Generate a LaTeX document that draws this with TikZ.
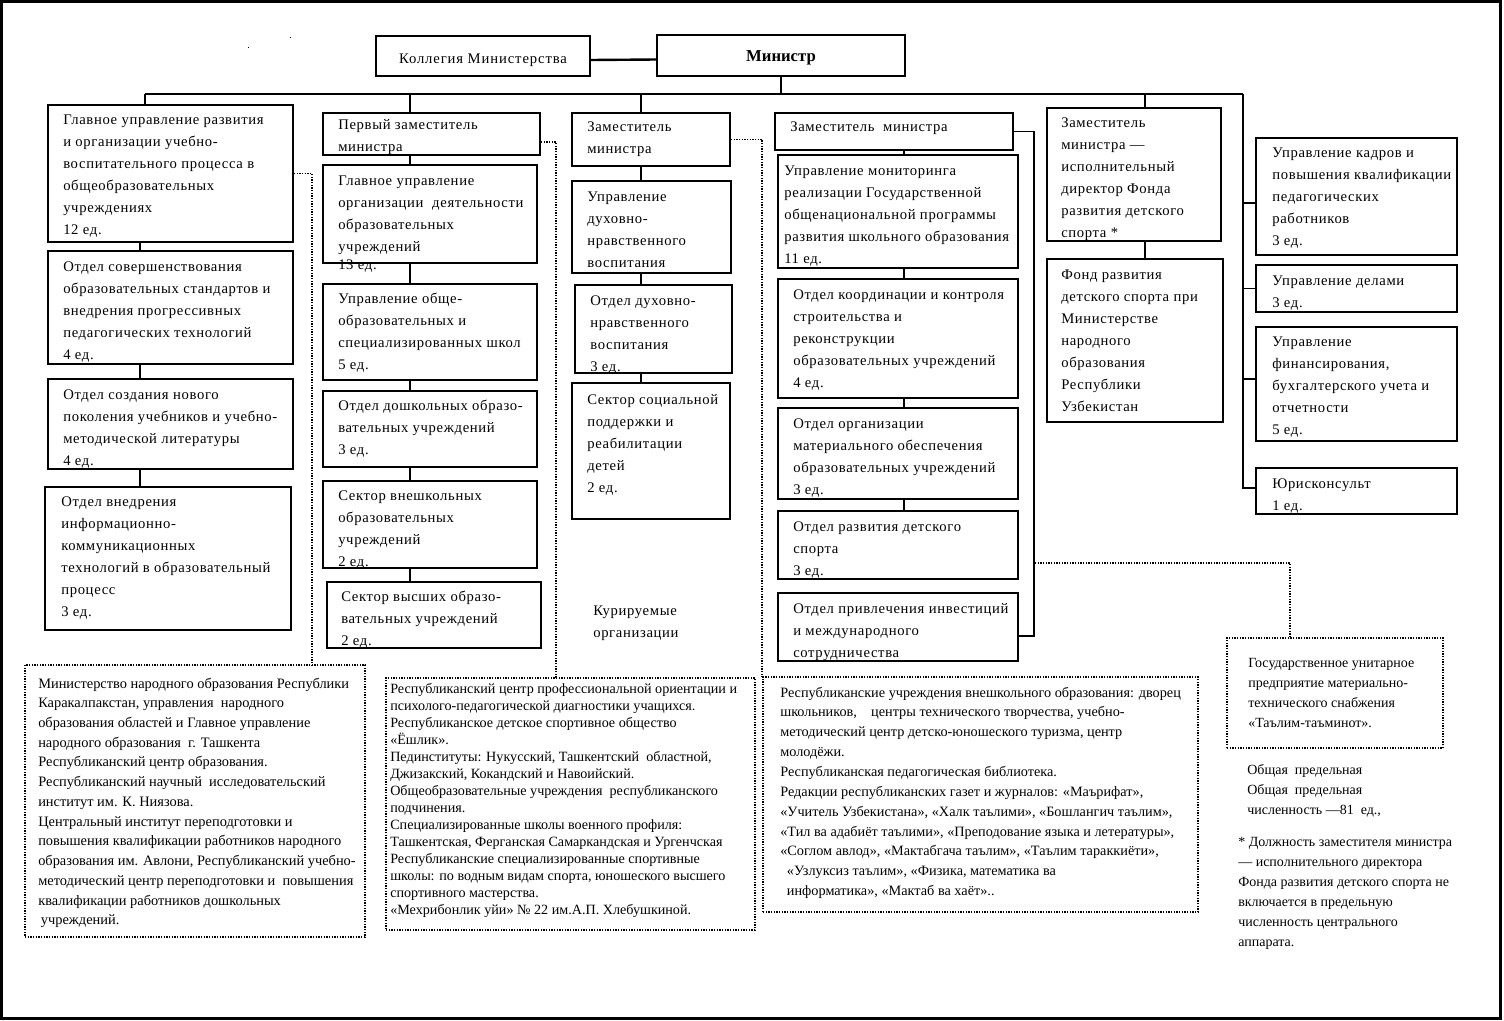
\documentclass[tikz,border=0pt]{standalone}
\usepackage{fontspec}
\setmainfont{Liberation Serif}
\newfontfamily\bxf[LetterSpace=4.5]{Liberation Serif}
\newfontfamily\kf[LetterSpace=6]{Liberation Serif}
\newfontfamily\dxf{Liberation Serif}
\usetikzlibrary{fit}
\newcommand\Ln[1]{\hbox{#1}}
\newcommand\Lines[1]{\vtop{#1}}
\tikzset{
  box/.style={draw, line width=1.4pt, inner sep=0pt},
  dbox/.style={draw, densely dotted, line width=1pt, inner sep=0pt},
  conn/.style={line width=1.3pt},
  dline/.style={densely dotted, line width=1pt},
  tx/.style={anchor=base west, inner sep=0pt, font=\bxf\fontsize{11pt}{16.5pt}\selectfont},
  dtxa/.style={anchor=base west, inner sep=0pt, font=\dxf\fontsize{10.8pt}{14.8pt}\selectfont},
  dtxb/.style={anchor=base west, inner sep=0pt, font=\dxf\fontsize{10.6pt}{12.75pt}\selectfont},
  dtxc/.style={anchor=base west, inner sep=0pt, font=\dxf\fontsize{10.7pt}{14.9pt}\selectfont},
  ntx/.style={anchor=base west, inner sep=0pt, font=\dxf\fontsize{10.5pt}{15pt}\selectfont},
}
\begin{document}
\begin{tikzpicture}[x=0.75pt,y=-0.75pt]
\useasboundingbox (0,0) rectangle (1504,1021);
\draw[line width=2.2pt] (1.5,1.5) rectangle (1500.5,1018.5);
\fill (247.5,46.5) rectangle (248.5,47.5);
\fill (289.5,36.5) rectangle (290.5,37.5);

% top
\node[box, fit={(376,36)(590,76)}] (k) {};
\node[inner sep=0pt, font=\kf\fontsize{11pt}{13pt}\selectfont] (kt) at ([yshift=-3pt]k.center) {Коллегия Министерства};
\node[box, fit={(657,35)(905,76)}] (m) {};
\node[inner sep=0pt, font=\dxf\bfseries\fontsize{12.5pt}{14pt}\selectfont] (mt) at ([yshift=-2pt]m.center) {Министр};

% column 1
\node[box, fit={(48,105)(293,242)}] (c1a) {};
\node[tx] (c1at) at (63,124) {\Lines{\Ln{Главное управление развития}\Ln{и организации учебно-}\Ln{воспитательного процесса в}\Ln{общеобразовательных}\Ln{учреждениях}\Ln{12 ед.}}};
\node[box, fit={(48,251)(293,364)}] (c1b) {};
\node[tx] (c1bt) at (63,271) {\Lines{\Ln{Отдел совершенствования}\Ln{образовательных стандартов и}\Ln{внедрения прогрессивных}\Ln{педагогических технологий}\Ln{4 ед.}}};
\node[box, fit={(48,379)(293,469)}] (c1c) {};
\node[tx] (c1ct) at (63,399) {\Lines{\Ln{Отдел создания нового}\Ln{поколения учебников и учебно-}\Ln{методической литературы}\Ln{4 ед.}}};
\node[box, fit={(45,487)(291,630)}] (c1d) {};
\node[tx] (c1dt) at (61,506) {\Lines{\Ln{Отдел внедрения}\Ln{информационно-}\Ln{коммуникационных}\Ln{технологий в образовательный}\Ln{процесс}\Ln{3 ед.}}};

% column 2
\node[box, fit={(323,113)(540,155)}] (c2a) {};
\node[tx] (c2at) at (338,129) {\Lines{\Ln{Первый заместитель}\Ln{министра}}};
\node[box, fit={(323,165)(537,263)}] (c2b) {};
\node[tx] (c2bt) at (338,185) {\Lines{\Ln{Главное управление}\Ln{организации \ деятельности}\Ln{образовательных}\Ln{учреждений}\vskip-3pt\Ln{13 ед.}}};
\node[box, fit={(323,284)(537,380)}] (c2c) {};
\node[tx] (c2ct) at (338,303) {\Lines{\Ln{Управление обще-}\Ln{образовательных и}\Ln{специализированных школ}\Ln{5 ед.}}};
\node[box, fit={(323,391)(537,467)}] (c2d) {};
\node[tx] (c2dt) at (338,410) {\Lines{\Ln{Отдел дошкольных образо-}\Ln{вательных учреждений}\Ln{3 ед.}}};
\node[box, fit={(323,481)(537,568)}] (c2e) {};
\node[tx] (c2et) at (338,500) {\Lines{\Ln{Сектор внешкольных}\Ln{образовательных}\Ln{учреждений}\Ln{2 ед.}}};
\node[box, fit={(327,582)(541,648)}] (c2f) {};
\node[tx] (c2ft) at (341,601) {\Lines{\Ln{Сектор высших образо-}\Ln{вательных учреждений}\Ln{2 ед.}}};

% column 3
\node[box, fit={(572,113)(730,166)}] (c3a) {};
\node[tx] (c3at) at (587,131) {\Lines{\Ln{Заместитель}\Ln{министра}}};
\node[box, fit={(572,181)(731,273)}] (c3b) {};
\node[tx] (c3bt) at (587,201) {\Lines{\Ln{Управление}\Ln{духовно-}\Ln{нравственного}\Ln{воспитания}}};
\node[box, fit={(575,285)(732,373)}] (c3c) {};
\node[tx] (c3ct) at (590,305) {\Lines{\Ln{Отдел духовно-}\Ln{нравственного}\Ln{воспитания}\Ln{3 ед.}}};
\node[box, fit={(572,383)(730,519)}] (c3d) {};
\node[tx] (c3dt) at (587,404) {\Lines{\Ln{Сектор социальной}\Ln{поддержки и}\Ln{реабилитации}\Ln{детей}\Ln{2 ед.}}};
\node[tx] (kur) at (593,615) {\Lines{\Ln{Курируемые}\Ln{организации}}};

% column 4
\node[box, fit={(775,113)(1013,150)}] (c4a) {};
\node[tx] (c4at) at (790,131) {Заместитель \ министра};
\node[box, fit={(778,155)(1018,268)}] (c4b) {};
\node[tx] (c4bt) at (784,175) {\Lines{\Ln{Управление мониторинга}\Ln{реализации Государственной}\Ln{общенациональной программы}\Ln{развития школьного образования}\Ln{11 ед.}}};
\node[box, fit={(778,279)(1018,398)}] (c4c) {};
\node[tx] (c4ct) at (793,299) {\Lines{\Ln{Отдел координации и контроля}\Ln{строительства и}\Ln{реконструкции}\Ln{образовательных учреждений}\Ln{4 ед.}}};
\node[box, fit={(778,408)(1018,499)}] (c4d) {};
\node[tx] (c4dt) at (793,428) {\Lines{\Ln{Отдел организации}\Ln{материального обеспечения}\Ln{образовательных учреждений}\Ln{3 ед.}}};
\node[box, fit={(778,511)(1018,579)}] (c4e) {};
\node[tx] (c4et) at (793,531) {\Lines{\Ln{Отдел развития детского}\Ln{спорта}\Ln{3 ед.}}};
\node[box, fit={(778,593)(1018,661)}] (c4f) {};
\node[tx] (c4ft) at (793,613) {\Lines{\Ln{Отдел привлечения инвестиций}\Ln{и международного}\Ln{сотрудничества}}};

% column 5
\node[box, fit={(1047,108)(1221,241)}] (c5a) {};
\node[tx] (c5at) at (1061,127) {\Lines{\Ln{Заместитель}\Ln{министра —}\Ln{исполнительный}\Ln{директор Фонда}\Ln{развития детского}\Ln{спорта *}}};
\node[box, fit={(1047,259)(1223,422)}] (c5b) {};
\node[tx] (c5bt) at (1061,279) {\Lines{\Ln{Фонд развития}\Ln{детского спорта при}\Ln{Министерстве}\Ln{народного}\Ln{образования}\Ln{Республики}\Ln{Узбекистан}}};

% right column
\node[box, fit={(1256,138)(1457,255)}] (r1) {};
\node[tx] (r1t) at (1272,157) {\Lines{\Ln{Управление кадров и}\Ln{повышения квалификации}\Ln{педагогических}\Ln{работников}\Ln{3 ед.}}};
\node[box, fit={(1256,265)(1457,312)}] (r2) {};
\node[tx] (r2t) at (1272,285) {\Lines{\Ln{Управление делами}\Ln{3 ед.}}};
\node[box, fit={(1256,327)(1457,441)}] (r3) {};
\node[tx] (r3t) at (1272,346) {\Lines{\Ln{Управление}\Ln{финансирования,}\Ln{бухгалтерского учета и}\Ln{отчетности}\Ln{5 ед.}}};
\node[box, fit={(1256,468)(1457,514)}] (r4) {};
\node[tx] (r4t) at (1272,488) {\Lines{\Ln{Юрисконсульт}\Ln{1 ед.}}};

% dotted boxes
\node[dbox, fit={(25,665)(365,937)}] (d1) {};
\node[dtxa] (d1t) at (38,688) {\Lines{\Ln{Министерство народного образования Республики}\Ln{Каракалпакстан, управления \ народного}\Ln{образования областей и Главное управление}\Ln{народного образования \ г. Ташкента}\Ln{Республиканский центр образования.}\Ln{Республиканский научный \ исследовательский}\Ln{институт им. К. Ниязова.}\Ln{Центральный институт переподготовки и}\Ln{повышения квалификации работников народного}\Ln{образования им. Авлони, Республиканский учебно-}\Ln{методический центр переподготовки и \ повышения}\Ln{квалификации работников дошкольных}\Ln{\kern2pt учреждений.}}};
\node[dbox, fit={(386,678)(755,930)}] (d2) {};
\node[dtxb] (d2t) at (390,693) {\Lines{\Ln{Республиканский центр профессиональной ориентации и}\Ln{психолого-педагогической диагностики учащихся.}\Ln{Республиканское детское спортивное общество}\Ln{«Ёшлик».}\Ln{Пединституты: Нукусский, Ташкентский \ областной,}\Ln{Джизакский, Кокандский и Навоийский.}\Ln{Общеобразовательные учреждения \ республиканского}\Ln{подчинения.}\Ln{Специализированные школы военного профиля:}\Ln{Ташкентская, Ферганская Самаркандская и Ургенчская}\Ln{Республиканские специализированные спортивные}\Ln{школы: по водным видам спорта, юношеского высшего}\Ln{спортивного мастерства.}\Ln{«Мехрибонлик уйи» № 22 им.А.П. Хлебушкиной.}}};
\node[dbox, fit={(763,677)(1198,912)}] (d3) {};
\node[dtxc] (d3t) at (780,697) {\Lines{\Ln{Республиканские учреждения внешкольного образования: дворец}\Ln{школьников, \ \ \ центры технического творчества, учебно-}\Ln{методический центр детско-юношеского туризма, центр}\Ln{молодёжи.}\Ln{Республиканская педагогическая библиотека.}\Ln{Редакции республиканских газет и журналов: «Маърифат»,}\Ln{«Учитель Узбекистана», «Халк таълими», «Бошлангич таълим»,}\Ln{«Тил ва адабиёт таълими», «Преподование языка и летературы»,}\Ln{«Соглом авлод», «Мактабгача таълим», «Таълим тараккиёти»,}\Ln{\kern5pt«Узлуксиз таълим», «Физика, математика ва}\Ln{\kern5pt информатика», «Мактаб ва хаёт»..}}};
\node[dbox, fit={(1227,638)(1443,748)}] (d4) {};
\node[ntx] (d4t) at (1248,667) {\Lines{\Ln{Государственное унитарное}\Ln{предприятие материально-}\Ln{технического снабжения}\Ln{«Таълим-таъминот».}}};
\node[ntx] (tot) at (1247,774) {\Lines{\Ln{Общая \ предельная}\Ln{Общая \ предельная}\Ln{численность —81 \ ед.,}}};
\node[ntx] (foot) at (1238,846) {\Lines{\Ln{* Должность заместителя министра}\Ln{— исполнительного директора}\Ln{Фонда развития детского спорта не}\Ln{включается в предельную}\Ln{численность центрального}\Ln{аппарата.}}};

% solid connectors
\draw[line width=1.8pt] ([yshift=-3pt]k.east) -- ([yshift=-3pt]m.west);
\coordinate (bl) at (145,94);
\coordinate (rb) at (1243,94);
\coordinate (b2) at (410,94);
\coordinate (b3) at (641,94);
\coordinate (b5) at (1145,94);
\coordinate (x1) at (140,0);
\coordinate (x4) at (904,0);
\draw[conn] (m.south) -- (m.south |- bl);
\draw[conn] (bl) -- (rb);
\draw[conn] (bl) -- (bl |- c1a.north);
\draw[conn] (b2) -- (b2 |- c2a.north);
\draw[conn] (b3) -- (b3 |- c3a.north);
\draw[conn] (b5) -- (b5 |- c5a.north);
\draw[conn] (rb) |- ([yshift=2pt]r4.west);
\draw[conn] ([yshift=-5pt]r1.west) -- ([yshift=-5pt]r1.west -| rb);
\draw[conn] (r2.west) -- (r2.west -| rb);
\draw[conn] ([yshift=4pt]r3.west) -- ([yshift=4pt]r3.west -| rb);

\draw[conn] (c1a.south -| x1) -- (c1b.north -| x1);
\draw[conn] (c1b.south -| x1) -- (c1c.north -| x1);
\draw[conn] (c1c.south -| x1) -- (c1d.north -| x1);

\draw[conn] (c2a.south -| b2) -- (c2b.north -| b2);
\draw[conn] (c2b.south -| b2) -- (c2c.north -| b2);
\draw[conn] (c2c.south -| b2) -- (c2d.north -| b2);
\draw[conn] (c2d.south -| b2) -- (c2e.north -| b2);
\draw[conn] (c2e.south -| b2) -- (c2f.north -| b2);

\draw[conn] (c3a.south -| b3) -- (c3b.north -| b3);
\draw[conn] (c3b.south -| b3) -- (c3c.north -| b3);
\draw[conn] (c3c.south -| b3) -- (c3d.north -| b3);

\draw[conn] (c4a.south -| x4) -- (c4b.north -| x4);
\draw[conn] (c4b.south -| x4) -- (c4c.north -| x4);
\draw[conn] (c4c.south -| x4) -- (c4d.north -| x4);
\draw[conn] (c4d.south -| x4) -- (c4e.north -| x4);

\draw[conn] (c5a.south -| b5) -- (c5b.north -| b5);

\coordinate (bk) at (1034,636);
\draw[conn] (c4a.east) -| (bk) -- (bk -| c4f.east);

% dotted connectors
\coordinate (k1) at (312,665);
\coordinate (k2) at (556,678);
\coordinate (k3) at (762,677);
\coordinate (k4) at (1035,563);
\coordinate (k5) at (1290,638);
\draw[dline] (c1a.east) -| (k1);
\draw[dline] ([yshift=-6pt]c2a.east) -| (k2);
\draw[dline] (c3a.east) -| (k3);
\draw[dline] (k4) -| (k5);
\end{tikzpicture}
\end{document}
